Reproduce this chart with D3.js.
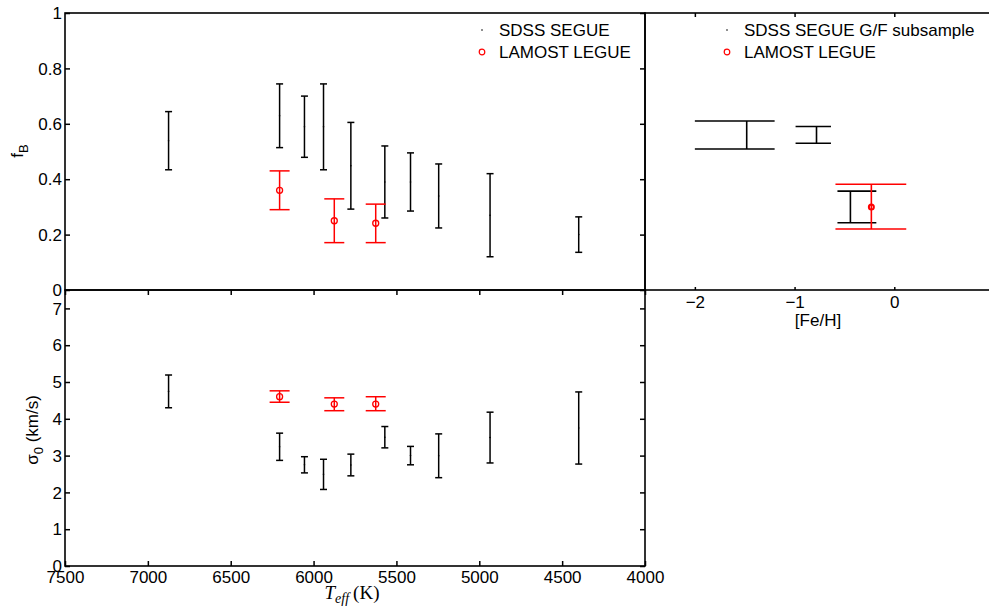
<!DOCTYPE html>
<html>
<head>
<meta charset="utf-8">
<script src="https://cdn.jsdelivr.net/npm/d3@7"></script>
<style>
  body { margin: 0; background: #fff; }
  svg text { font-family: "Liberation Sans", Arial, sans-serif; }
</style>
</head>
<body>
<div id="chart"></div>
<script>
// SDSS SEGUE bins (Teff)
const teffSegue = [6875, 6205, 6055, 5940, 5775, 5570, 5415, 5245, 4935, 4400];
const fbSegueLo = [0.434, 0.514, 0.479, 0.434, 0.292, 0.260, 0.285, 0.224, 0.120, 0.136];
const fbSegueHi = [0.644, 0.744, 0.700, 0.744, 0.605, 0.520, 0.495, 0.455, 0.420, 0.264];
const sigSegueLo = [4.30, 2.87, 2.53, 2.08, 2.45, 3.21, 2.75, 2.40, 2.80, 2.77];
const sigSegueHi = [5.19, 3.61, 2.97, 2.90, 3.04, 3.79, 3.25, 3.59, 4.18, 4.73];

// LAMOST LEGUE bins (Teff)
const teffLamost = [6205, 5875, 5625];
const fbLamost = [0.360, 0.250, 0.241];
const fbLamostLo = [0.290, 0.171, 0.171];
const fbLamostHi = [0.430, 0.329, 0.310];
const sigLamost = [4.60, 4.40, 4.40];
const sigLamostLo = [4.45, 4.22, 4.22];
const sigLamostHi = [4.76, 4.57, 4.60];

// [Fe/H] subsample
const fehSegue = [-1.48, -0.78, -0.44];
const fehSegueBinLo = [-2.0, -0.99, -0.57];
const fehSegueBinHi = [-1.2, -0.635, -0.18];
const fbFehSegueLo = [0.509, 0.530, 0.243];
const fbFehSegueHi = [0.610, 0.590, 0.357];
const fehLamost = [-0.23];
const fehLamostBinLo = [-0.59];
const fehLamostBinHi = [0.12];
const fbFehLamost = [0.300];
const fbFehLamostLo = [0.220];
const fbFehLamostHi = [0.382];

const teffTicks = [7500, 7000, 6500, 6000, 5500, 5000, 4500, 4000];
const fbTicks = [0, 0.2, 0.4, 0.6, 0.8, 1];
const sigTicks = [0, 1, 2, 3, 4, 5, 6, 7];
const fehTicks = [-2, -1, 0];

const W = 989, H = 613;
const RED = "#ff0000";

const svg = d3.select("#chart").append("svg")
    .attr("width", W)
    .attr("height", H);

// scales
let x = d3.scaleLinear().domain([7500, 4000]).range([65, 645]);
let yFb = d3.scaleLinear().domain([0, 1]).range([290, 13]);
let ySig = d3.scaleLinear().domain([0, 7.5]).range([566, 290]);
let xFe = d3.scaleLinear().domain([-2.5, 1]).range([645, 994]);

function styleAxis(g) {
    g.select(".domain").remove();
    g.selectAll(".tick line").attr("stroke", "#000").attr("stroke-width", 1.5);
    g.selectAll(".tick text")
        .attr("fill", "#000")
        .style("font-size", "17px")
        .style("font-family", "Liberation Sans, Arial, sans-serif");
}

// ---- top-left panel: f_B vs Teff
svg.append("g")
    .attr("transform", "translate(65,0)")
    .call(d3.axisLeft(yFb).tickValues(fbTicks).tickSize(-5).tickPadding(3).tickFormat(d3.format("~g")))
    .call(styleAxis)
    .selectAll(".tick text").attr("dy", "0.34em");
svg.append("g")
    .attr("transform", "translate(645,0)")
    .call(d3.axisRight(yFb).tickValues(fbTicks).tickSize(-5).tickFormat(""))
    .call(styleAxis);

// ---- bottom panel: sigma0 vs Teff
svg.append("g")
    .attr("transform", "translate(65,0)")
    .call(d3.axisLeft(ySig).tickValues(sigTicks).tickSize(-5).tickPadding(3).tickFormat(d3.format("d")))
    .call(styleAxis)
    .selectAll(".tick text").attr("dy", "0.34em");
svg.append("g")
    .attr("transform", "translate(645,0)")
    .call(d3.axisRight(ySig).tickValues(sigTicks).tickSize(-5).tickFormat(""))
    .call(styleAxis);
svg.append("g")
    .attr("transform", "translate(0,566)")
    .call(d3.axisBottom(x).tickValues(teffTicks).tickSize(-5).tickPadding(5).tickFormat(d3.format("d")))
    .call(styleAxis);
svg.append("g")
    .attr("transform", "translate(0,290)")
    .call(d3.axisTop(x).tickValues(teffTicks).tickSize(-5).tickFormat(""))
    .call(styleAxis);

// ---- right panel: f_B vs [Fe/H]
svg.append("g")
    .attr("transform", "translate(0,290)")
    .call(d3.axisBottom(xFe).tickValues(fehTicks).tickSize(-3).tickPadding(6).tickFormat(d3.format("d")))
    .call(styleAxis);
svg.append("g")
    .attr("transform", "translate(0,13)")
    .call(d3.axisTop(xFe).tickValues(fehTicks).tickSize(-4).tickFormat(""))
    .call(styleAxis);

// frames
const frames = [
    [x.range()[0], yFb.range()[1], x.range()[1], yFb.range()[0]],
    [x.range()[0], ySig.range()[1], x.range()[1], ySig.range()[0]],
    [xFe.range()[0], yFb.range()[1], xFe.range()[1], yFb.range()[0]]
];
svg.selectAll("rect.frame")
    .data(frames)
    .enter()
    .append("rect")
    .attr("class", "frame")
    .attr("x", d => d[0])
    .attr("y", d => d[1])
    .attr("width", d => d[2] - d[0])
    .attr("height", d => d[3] - d[1])
    .attr("fill", "none")
    .attr("stroke", "#000")
    .attr("stroke-width", 1.6);

// vertical error bars helper
function errorBars(g, xs, lo, hi, xScale, yScale, halfCap, color) {
    let data = xs.map((v, i) => ({ x: v, lo: lo[i], hi: hi[i] }));
    let bars = g.append("g").attr("stroke", color).attr("stroke-width", 1.5).attr("fill", "none");
    bars.selectAll("line.v").data(data).enter().append("line")
        .attr("x1", d => xScale(d.x)).attr("x2", d => xScale(d.x))
        .attr("y1", d => yScale(d.lo)).attr("y2", d => yScale(d.hi));
    ["lo", "hi"].forEach(k => {
        bars.selectAll("line.c" + k).data(data).enter().append("line")
            .attr("x1", d => xScale(d.x) - halfCap).attr("x2", d => xScale(d.x) + halfCap)
            .attr("y1", d => yScale(d[k])).attr("y2", d => yScale(d[k]));
    });
}

function dots(g, xs, ys, xScale, yScale) {
    g.append("g").selectAll("circle").data(xs).enter().append("circle")
        .attr("cx", d => xScale(d))
        .attr("cy", (d, i) => yScale(ys[i]))
        .attr("r", 0.8)
        .attr("fill", "#000");
}

function rings(g, xs, ys, xScale, yScale, r, sw) {
    g.append("g").selectAll("circle").data(xs).enter().append("circle")
        .attr("cx", d => xScale(d))
        .attr("cy", (d, i) => yScale(ys[i]))
        .attr("r", r)
        .attr("fill", "none")
        .attr("stroke", RED)
        .attr("stroke-width", sw);
}

const marks = svg.append("g");

// top-left
errorBars(marks, teffSegue, fbSegueLo, fbSegueHi, x, yFb, 3.5, "#000");
dots(marks, teffSegue, fbSegueLo.map((v, i) => (v + fbSegueHi[i]) / 2), x, yFb);
errorBars(marks, teffLamost, fbLamostLo, fbLamostHi, x, yFb, 10, RED);
rings(marks, teffLamost, fbLamost, x, yFb, 3, 1.3);

// bottom
errorBars(marks, teffSegue, sigSegueLo, sigSegueHi, x, ySig, 3.5, "#000");
dots(marks, teffSegue, sigSegueLo.map((v, i) => (v + sigSegueHi[i]) / 2), x, ySig);
errorBars(marks, teffLamost, sigLamostLo, sigLamostHi, x, ySig, 10, RED);
rings(marks, teffLamost, sigLamost, x, ySig, 3, 1.3);

// right panel: caps span the [Fe/H] bin
function binBars(g, xs, binLo, binHi, lo, hi, color) {
    let data = xs.map((v, i) => ({ x: v, bl: binLo[i], bh: binHi[i], lo: lo[i], hi: hi[i] }));
    let bars = g.append("g").attr("stroke", color).attr("stroke-width", 1.6);
    bars.selectAll("line.v").data(data).enter().append("line")
        .attr("x1", d => xFe(d.x)).attr("x2", d => xFe(d.x))
        .attr("y1", d => yFb(d.lo)).attr("y2", d => yFb(d.hi));
    ["lo", "hi"].forEach(k => {
        bars.selectAll("line.c" + k).data(data).enter().append("line")
            .attr("x1", d => xFe(d.bl)).attr("x2", d => xFe(d.bh))
            .attr("y1", d => yFb(d[k])).attr("y2", d => yFb(d[k]));
    });
}
binBars(marks, fehSegue, fehSegueBinLo, fehSegueBinHi, fbFehSegueLo, fbFehSegueHi, "#000");
binBars(marks, fehLamost, fehLamostBinLo, fehLamostBinHi, fbFehLamostLo, fbFehLamostHi, RED);
rings(marks, fehLamost, fbFehLamost, xFe, yFb, 2.5, 2);

// legends
function legend(x0, y0, labels) {
    let lg = svg.append("g").attr("transform", "translate(" + x0 + "," + y0 + ")");
    lg.append("circle").attr("cx", 0).attr("cy", 0).attr("r", 0.8).attr("fill", "#000");
    lg.append("circle").attr("cx", 0).attr("cy", 22).attr("r", 2.8)
        .attr("fill", "none").attr("stroke", RED).attr("stroke-width", 1.2);
    lg.selectAll("text").data(labels).enter().append("text")
        .attr("x", 17)
        .attr("y", (d, i) => i * 22 + 6)
        .style("font-size", "17px")
        .text(d => d);
}
legend(482, 30, ["SDSS SEGUE", "LAMOST LEGUE"]);
legend(727, 30, ["SDSS SEGUE G/F subsample", "LAMOST LEGUE"]);

// axis labels
let fbLabel = svg.append("text")
    .attr("transform", "translate(23,151) rotate(-90)")
    .attr("text-anchor", "middle")
    .style("font-size", "17px");
fbLabel.append("tspan").text("f");
fbLabel.append("tspan").attr("dy", "5").style("font-size", "13px").text("B");

let sigLabel = svg.append("text")
    .attr("transform", "translate(38,430) rotate(-90)")
    .attr("text-anchor", "middle")
    .style("font-size", "17px");
sigLabel.append("tspan").text("σ");
sigLabel.append("tspan").attr("dy", "5").style("font-size", "13px").text("0");
sigLabel.append("tspan").attr("dy", "-5").text(" (km/s)");

svg.append("text")
    .attr("x", 818)
    .attr("y", 326)
    .attr("text-anchor", "middle")
    .style("font-size", "17px")
    .text("[Fe/H]");

let teffLabel = svg.append("text")
    .attr("x", 352)
    .attr("y", 599)
    .attr("text-anchor", "middle")
    .style("font-family", "Liberation Serif, 'Times New Roman', serif")
    .style("font-size", "19px");
teffLabel.append("tspan").style("font-style", "italic").text("T");
teffLabel.append("tspan").attr("dy", "4").style("font-style", "italic").style("font-size", "14px").text("eff");
teffLabel.append("tspan").attr("dy", "-4").attr("dx", "4").text("(K)");
</script>
</body>
</html>
